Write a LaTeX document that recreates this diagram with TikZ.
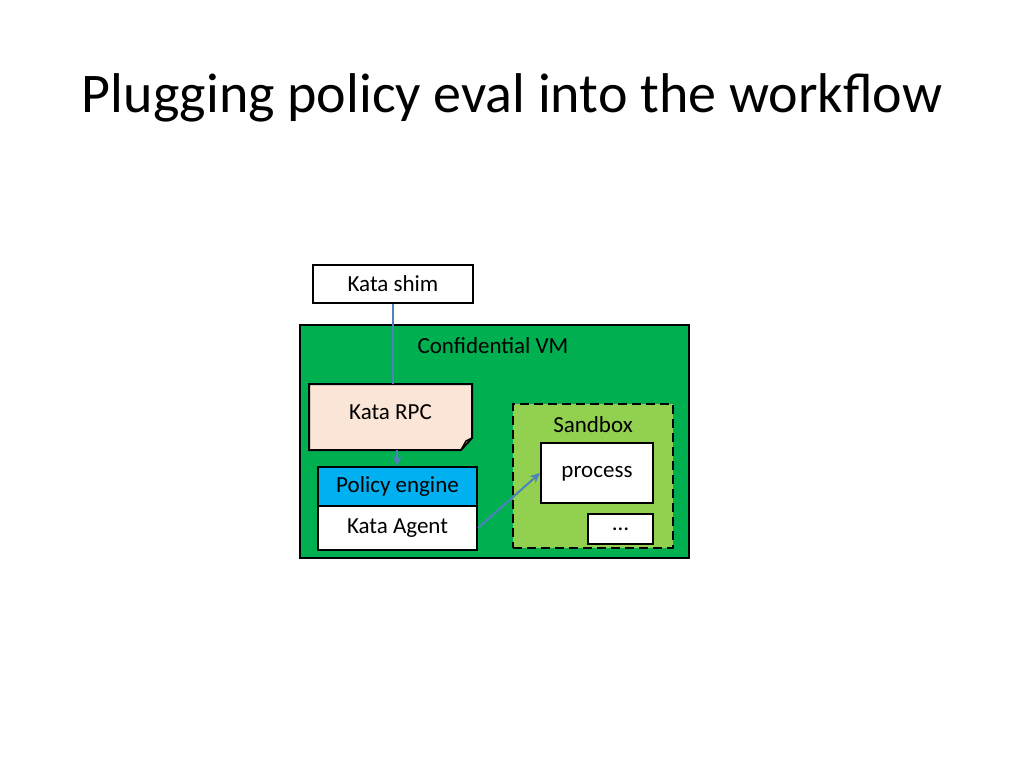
\documentclass[tikz,border=0pt]{standalone}
\usepackage{fontspec}
\setmainfont{Carlito}
\usetikzlibrary{arrows.meta,shapes.misc}
\definecolor{vmgreen}{HTML}{00B050}
\definecolor{sbgreen}{HTML}{92D050}
\definecolor{rpcpeach}{HTML}{FBE5D6}
\definecolor{polblue}{HTML}{00B0F0}
\definecolor{linkblue}{HTML}{4F81BD}
\tikzset{
  lbl/.style={font=\fontsize{23}{27}\selectfont},
  box/.style={draw, line width=2pt, inner sep=0pt, lbl},
  link/.style={draw=linkblue, line width=2pt, -{Stealth[length=10pt,width=9pt]}}
}
\begin{document}
\begin{tikzpicture}[x=1pt,y=-1pt]
\useasboundingbox (0,0) rectangle (1024,768);
\node[font=\fontsize{56}{66}\selectfont] (title) at (512,98) {Plugging policy eval into the workflow};

\node[box, minimum width=160pt, minimum height=38pt] (shim) at (393,284) {Kata shim};

\node[box, fill=vmgreen, minimum width=389pt, minimum height=233pt] (vm) at (494.5,441.5) {};
\node[lbl] (vmlabel) at (493,346) {Confidential VM};

% note with folded corner
\draw[box, fill=rpcpeach] (309,384) -- (472,384) -- (472,438) -- (461,450) -- (309,450) -- cycle;
\draw[line width=1.5pt] (472,438) -- (466,441) -- (461,450);
\node[lbl] (rpc) at (390.5,412) {Kata RPC};
\coordinate (rpctop) at (393,384);
\coordinate (rpcbot) at (397,450);

\node[box, fill=polblue, minimum width=159pt, minimum height=39pt] (policy) at (397.5,486.5) {Policy engine};
\node[box, fill=white, minimum width=159pt, minimum height=44pt] (agent) at (397.5,528) {Kata Agent};

\node[box, dash pattern=on 9pt off 5pt, fill=sbgreen, minimum width=160pt, minimum height=144pt] (sandbox) at (593,476) {};
\node[lbl] (sblabel) at (593,425) {Sandbox};
\node[box, fill=white, minimum width=112pt, minimum height=60pt] (process) at (597,473) {};
\node[lbl] (proclabel) at (597,474) {process};
\node[box, fill=white, minimum width=65pt, minimum height=30pt] (more) at (620.5,529) {\dots};

\draw[draw=linkblue, line width=2pt] (shim.south -| rpctop) -- (rpctop);
\draw[link] (rpcbot) -- (policy.north -| rpcbot);
\draw[link] (agent.east) -- (process.west);
\end{tikzpicture}
\end{document}
